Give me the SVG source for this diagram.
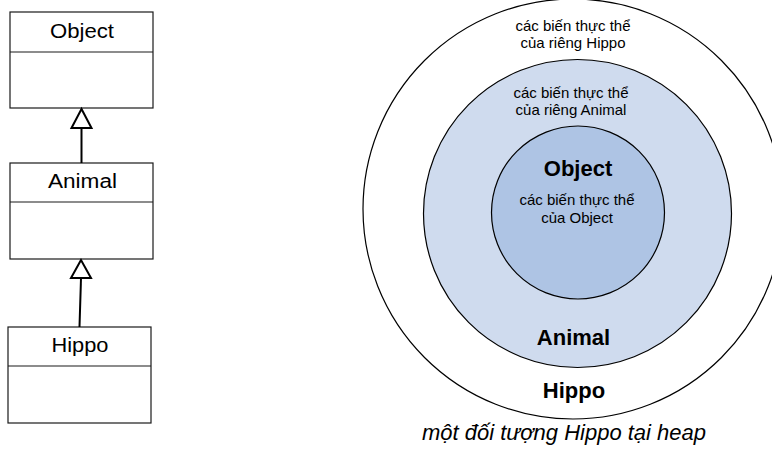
<svg xmlns="http://www.w3.org/2000/svg" width="772" height="453" viewBox="0 0 772 453">
<style>
.box{fill:#fff;stroke:#1a1a1a;stroke-width:1.2}
.cls{font-family:"Liberation Sans",Arial,sans-serif;font-size:20px;fill:#000;text-anchor:middle}
.sm{font-family:"Liberation Sans",Arial,sans-serif;font-size:15px;fill:#000;text-anchor:middle}
.bd{font-family:"Liberation Sans",Arial,sans-serif;font-size:22px;font-weight:bold;fill:#000;text-anchor:middle}
.cap{font-family:"Liberation Sans",Arial,sans-serif;font-size:22px;font-style:italic;fill:#000;text-anchor:middle}
.conn{stroke:#000;stroke-width:2;fill:none}
.head{fill:#fff;stroke:#000;stroke-width:2;stroke-linejoin:miter}
.ring{stroke:#000;stroke-width:1.2}
</style>
<rect width="772" height="453" fill="#fff"/>
<g id="class-object">
<rect class="box" x="10" y="12" width="143" height="96"/>
<line class="box" x1="10" y1="52" x2="153" y2="52"/>
<text class="cls" x="82" y="38" textLength="64" lengthAdjust="spacingAndGlyphs">Object</text>
</g>
<g id="class-animal">
<rect class="box" x="10" y="163" width="143" height="96"/>
<line class="box" x1="10" y1="202" x2="153" y2="202"/>
<text class="cls" x="82.5" y="188" textLength="69" lengthAdjust="spacingAndGlyphs">Animal</text>
</g>
<g id="class-hippo">
<rect class="box" x="8" y="327" width="143" height="96"/>
<line class="box" x1="8" y1="366" x2="151" y2="366"/>
<text class="cls" x="80" y="352" textLength="57" lengthAdjust="spacingAndGlyphs">Hippo</text>
</g>
<g id="connectors">
<line class="conn" x1="81.5" y1="163" x2="81.5" y2="128"/>
<polygon class="head" points="81.5,109 71.5,128 91.5,128"/>
<line class="conn" x1="79.5" y1="327" x2="81" y2="278"/>
<polygon class="head" points="81,260 71,278 91,278"/>
</g>
<g id="heap-hippo">
<circle class="ring" cx="573" cy="209" r="210" fill="#fff"/>
<text class="sm" x="573" y="31">các biến thực thể</text>
<text class="sm" x="573" y="48">của riêng Hippo</text>
<text class="bd" x="574" y="398">Hippo</text>
</g>
<g id="heap-animal">
<circle class="ring" cx="577.5" cy="213.5" r="154" fill="#CFDBEE"/>
<text class="sm" x="571" y="98">các biến thực thể</text>
<text class="sm" x="571" y="115">của riêng Animal</text>
<text class="bd" x="573.5" y="345">Animal</text>
</g>
<g id="heap-object">
<circle class="ring" cx="578" cy="212.5" r="86.5" fill="#AEC4E4"/>
<text class="bd" x="578" y="176">Object</text>
<text class="sm" x="577" y="205">các biến thực thể</text>
<text class="sm" x="577" y="223">của Object</text>
</g>
<text class="cap" x="564" y="440">một đối tượng Hippo tại heap</text>
</svg>
